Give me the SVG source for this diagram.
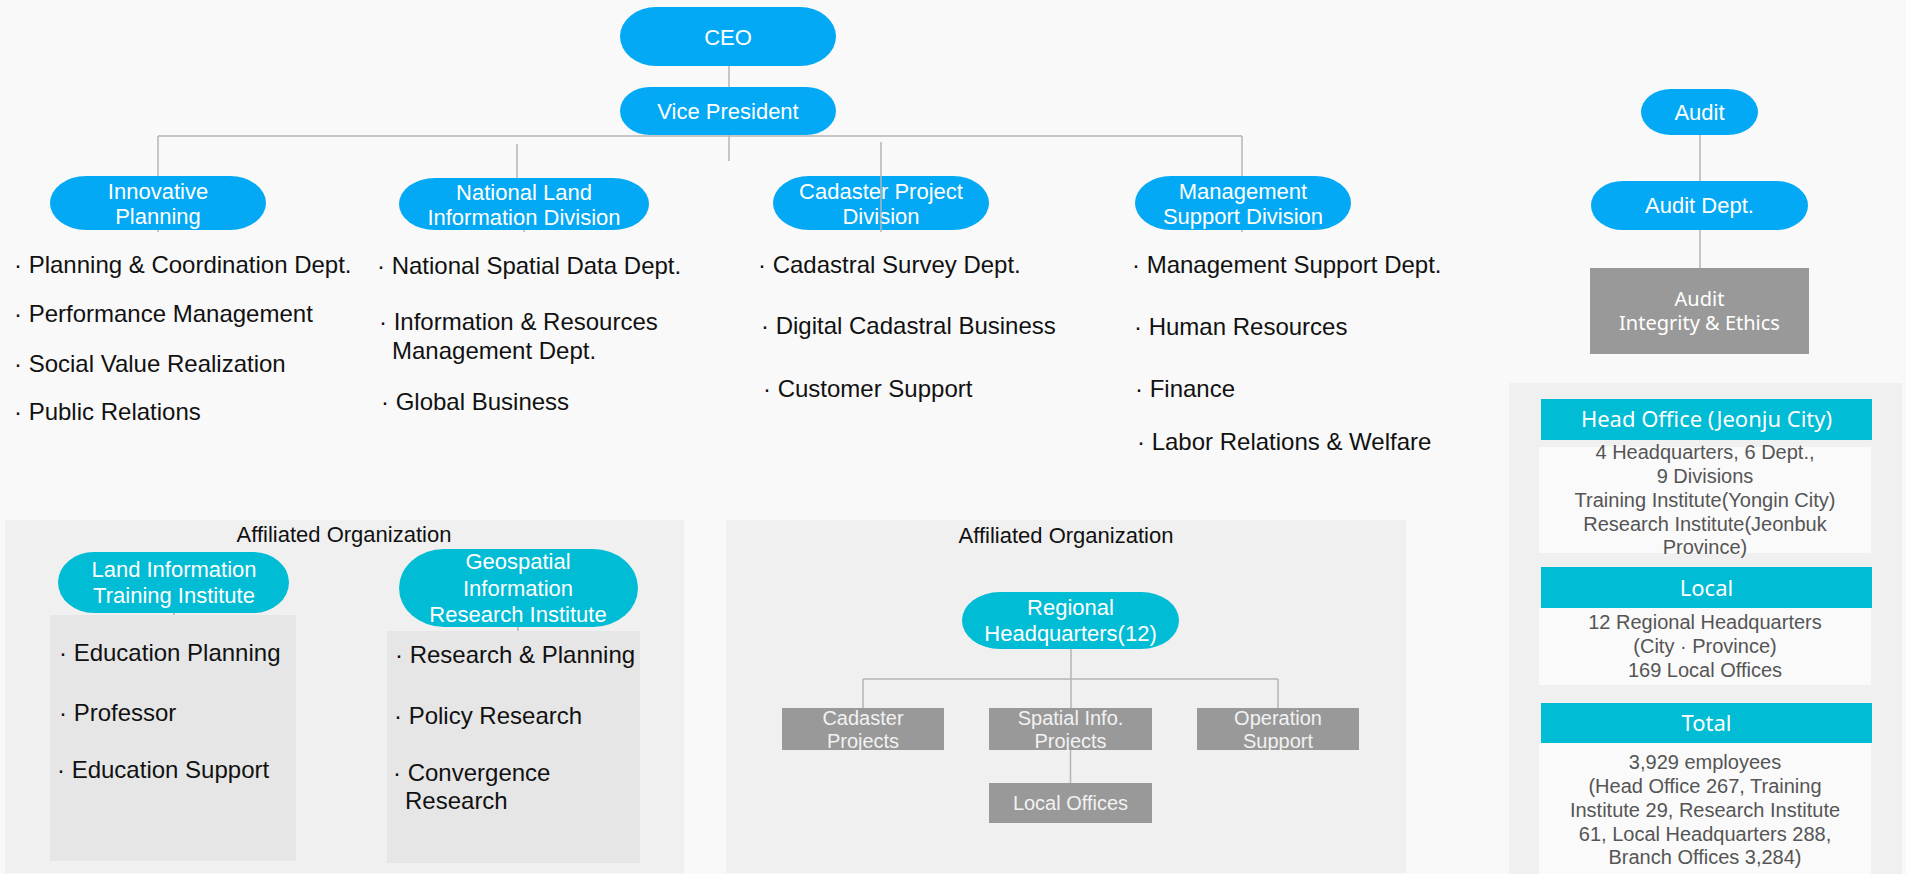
<svg xmlns="http://www.w3.org/2000/svg" width="1906" height="874" viewBox="0 0 1906 874">
<style>
.bg{fill:#f9f9f9}
.panel{fill:#f0f0f0}
.pill{fill:#03a9f4}
.cpill{fill:#00bcd4}
.gbox{fill:#999999}
.lbox{fill:#e6e6e6}
.body{fill:#fafafa}
.ln{stroke:#b5b5b5;stroke-width:1.5;fill:none}
.pt{font-family:"Liberation Sans",Arial,sans-serif;font-size:22px;fill:#ffffff;text-anchor:middle}
.it{font-family:"Liberation Sans",Arial,sans-serif;font-size:24px;fill:#111111}
.gt{font-family:"Liberation Sans",Arial,sans-serif;font-size:20px;fill:#f2f2f2;text-anchor:middle}
.ht{font-family:"Noto Sans","Liberation Sans",sans-serif;font-size:20px;fill:#ffffff;text-anchor:middle}
.bt{font-family:"Liberation Sans",Arial,sans-serif;font-size:20px;fill:#555555;text-anchor:middle}
.tt{font-family:"Liberation Sans",Arial,sans-serif;font-size:22px;fill:#111111;text-anchor:middle}
</style>
<rect class="bg" x="0" y="0" width="1906" height="874"/>
<rect class="panel" x="5" y="520" width="679" height="353"/>
<rect class="panel" x="726" y="520" width="680" height="353"/>
<rect class="panel" x="1509" y="383" width="393" height="491"/>

<g id="connectors">
<line class="ln" x1="729" y1="66" x2="729" y2="87"/>
<line class="ln" x1="158" y1="136" x2="1242" y2="136"/>
<line class="ln" x1="729" y1="135" x2="729" y2="161"/>
<line class="ln" x1="158" y1="136" x2="158" y2="232"/>
<line class="ln" x1="517" y1="144" x2="517" y2="180"/>
<line class="ln" x1="524" y1="228" x2="524" y2="232"/>
<line class="ln" x1="1242" y1="136" x2="1242" y2="232"/>
<line class="ln" x1="1700" y1="135" x2="1700" y2="268"/>
<line class="ln" x1="174" y1="610" x2="174" y2="616"/>
<line class="ln" x1="518" y1="624" x2="518" y2="632"/>
<line class="ln" x1="1071" y1="649" x2="1071" y2="708"/>
<line class="ln" x1="863" y1="679" x2="1278" y2="679"/>
<line class="ln" x1="863" y1="679" x2="863" y2="708"/>
<line class="ln" x1="1278" y1="679" x2="1278" y2="708"/>
<line class="ln" x1="1070.5" y1="749" x2="1070.5" y2="784"/>
</g>

<g id="ceo"><rect class="pill" x="620" y="7" width="216" height="59" rx="36" ry="29.5"/><text class="pt" x="728" y="45">CEO</text></g>
<g id="vp"><rect class="pill" x="620" y="87" width="216" height="48" rx="30" ry="24"/><text class="pt" x="728" y="119">Vice President</text></g>

<g id="innovative"><rect class="pill" x="50" y="176" width="216" height="54" rx="36" ry="27"/><text class="pt" x="158" y="199">Innovative</text><text class="pt" x="158" y="224">Planning</text></g>
<g id="nlid"><rect class="pill" x="399" y="178" width="250" height="52" rx="36" ry="26"/><text class="pt" x="524" y="200">National Land</text><text class="pt" x="524" y="225">Information Division</text></g>
<g id="cpd"><rect class="pill" x="773" y="176" width="216" height="54" rx="36" ry="27"/><text class="pt" x="881" y="199">Cadaster Project</text><text class="pt" x="881" y="224">Division</text></g>
<line class="ln" x1="881" y1="142" x2="881" y2="232"/>
<g id="msd"><rect class="pill" x="1135" y="176" width="216" height="54" rx="36" ry="27"/><text class="pt" x="1243" y="199">Management</text><text class="pt" x="1243" y="224">Support Division</text></g>

<g id="audit"><rect class="pill" x="1641" y="89" width="117" height="46" rx="30" ry="23"/><text class="pt" x="1699.5" y="120">Audit</text></g>
<g id="auditdept"><rect class="pill" x="1591" y="181" width="217" height="49" rx="32" ry="24.5"/><text class="pt" x="1699.5" y="213">Audit Dept.</text></g>
<g id="auditbox"><rect class="gbox" x="1590" y="268" width="219" height="86"/><text class="ht" x="1699.5" y="306">Audit</text><text class="ht" x="1699.5" y="330">Integrity &amp; Ethics</text></g>

<g id="list-innovative">
<text class="it" x="14" y="273">· Planning &amp; Coordination Dept.</text>
<text class="it" x="14" y="322">· Performance Management</text>
<text class="it" x="14" y="372">· Social Value Realization</text>
<text class="it" x="14" y="420">· Public Relations</text>
</g>
<g id="list-nlid">
<text class="it" x="377" y="274">· National Spatial Data Dept.</text>
<text class="it" x="379" y="330">· Information &amp; Resources</text>
<text class="it" x="392" y="359">Management Dept.</text>
<text class="it" x="381" y="410">· Global Business</text>
</g>
<g id="list-cpd">
<text class="it" x="758" y="273">· Cadastral Survey Dept.</text>
<text class="it" x="761" y="334">· Digital Cadastral Business</text>
<text class="it" x="763" y="397">· Customer Support</text>
</g>
<g id="list-msd">
<text class="it" x="1132" y="273">· Management Support Dept.</text>
<text class="it" x="1134" y="335">· Human Resources</text>
<text class="it" x="1135" y="397">· Finance</text>
<text class="it" x="1137" y="450">· Labor Relations &amp; Welfare</text>
</g>

<g id="affiliated-left">
<text class="tt" x="344" y="542">Affiliated Organization</text>
</g>
<g id="lit"><rect class="cpill" x="58" y="552" width="231" height="61" rx="36" ry="30.5"/><text class="pt" x="174" y="577">Land Information</text><text class="pt" x="174" y="603">Training Institute</text></g>
<g id="lit-list"><rect class="lbox" x="50" y="615" width="246" height="246"/>
<text class="it" x="59" y="661">· Education Planning</text>
<text class="it" x="59" y="721">· Professor</text>
<text class="it" x="57" y="778">· Education Support</text>
</g>
<g id="giri"><rect class="cpill" x="399" y="549" width="239" height="78" rx="45" ry="39"/><text class="pt" x="518" y="569">Geospatial</text><text class="pt" x="518" y="596">Information</text><text class="pt" x="518" y="622">Research Institute</text></g>
<g id="giri-list"><rect class="lbox" x="387" y="631" width="253" height="232"/>
<text class="it" x="395" y="663">· Research &amp; Planning</text>
<text class="it" x="394" y="724">· Policy Research</text>
<text class="it" x="393" y="781">· Convergence</text>
<text class="it" x="405" y="809">Research</text>
</g>

<g id="affiliated-mid">
<text class="tt" x="1066" y="543">Affiliated Organization</text>
</g>
<g id="regional"><rect class="cpill" x="962" y="592" width="217" height="57" rx="38" ry="28.5"/><text class="pt" x="1070.5" y="615">Regional</text><text class="pt" x="1070.5" y="641">Headquarters(12)</text></g>
<g id="cadaster-projects"><rect class="gbox" x="782" y="708" width="162" height="42"/><text class="gt" x="863" y="725">Cadaster</text><text class="gt" x="863" y="748">Projects</text></g>
<g id="spatial-projects"><rect class="gbox" x="989" y="708" width="163" height="42"/><text class="gt" x="1070.5" y="725">Spatial Info.</text><text class="gt" x="1070.5" y="748">Projects</text></g>
<g id="operation-support"><rect class="gbox" x="1197" y="708" width="162" height="42"/><text class="gt" x="1278" y="725">Operation</text><text class="gt" x="1278" y="748">Support</text></g>
<g id="local-offices"><rect class="gbox" x="989" y="783" width="163" height="40"/><text class="gt" x="1070.5" y="810">Local Offices</text></g>

<g id="head-office">
<rect class="cpill" x="1541" y="399" width="331" height="41"/>
<text class="ht" x="1706.5" y="427" style="font-size:22px">Head Office (Jeonju City)</text>
<rect class="body" x="1539" y="447" width="332" height="106"/>
<text class="bt" x="1705" y="459">4 Headquarters, 6 Dept.,</text>
<text class="bt" x="1705" y="483">9 Divisions</text>
<text class="bt" x="1705" y="507">Training Institute(Yongin City)</text>
<text class="bt" x="1705" y="531">Research Institute(Jeonbuk</text>
<text class="bt" x="1705" y="554">Province)</text>
</g>
<g id="local">
<rect class="cpill" x="1541" y="567" width="331" height="41"/>
<text class="ht" x="1706.5" y="596" style="font-size:22px">Local</text>
<rect class="body" x="1539" y="608" width="332" height="77"/>
<text class="bt" x="1705" y="629">12 Regional Headquarters</text>
<text class="bt" x="1705" y="653">(City · Province)</text>
<text class="bt" x="1705" y="677">169 Local Offices</text>
</g>
<g id="total">
<rect class="cpill" x="1541" y="703" width="331" height="40"/>
<text class="ht" x="1706.5" y="731" style="font-size:22px">Total</text>
<rect class="body" x="1539" y="743" width="332" height="131"/>
<text class="bt" x="1705" y="769">3,929 employees</text>
<text class="bt" x="1705" y="793">(Head Office 267, Training</text>
<text class="bt" x="1705" y="817">Institute 29, Research Institute</text>
<text class="bt" x="1705" y="841">61, Local Headquarters 288,</text>
<text class="bt" x="1705" y="864">Branch Offices 3,284)</text>
</g>
</svg>
